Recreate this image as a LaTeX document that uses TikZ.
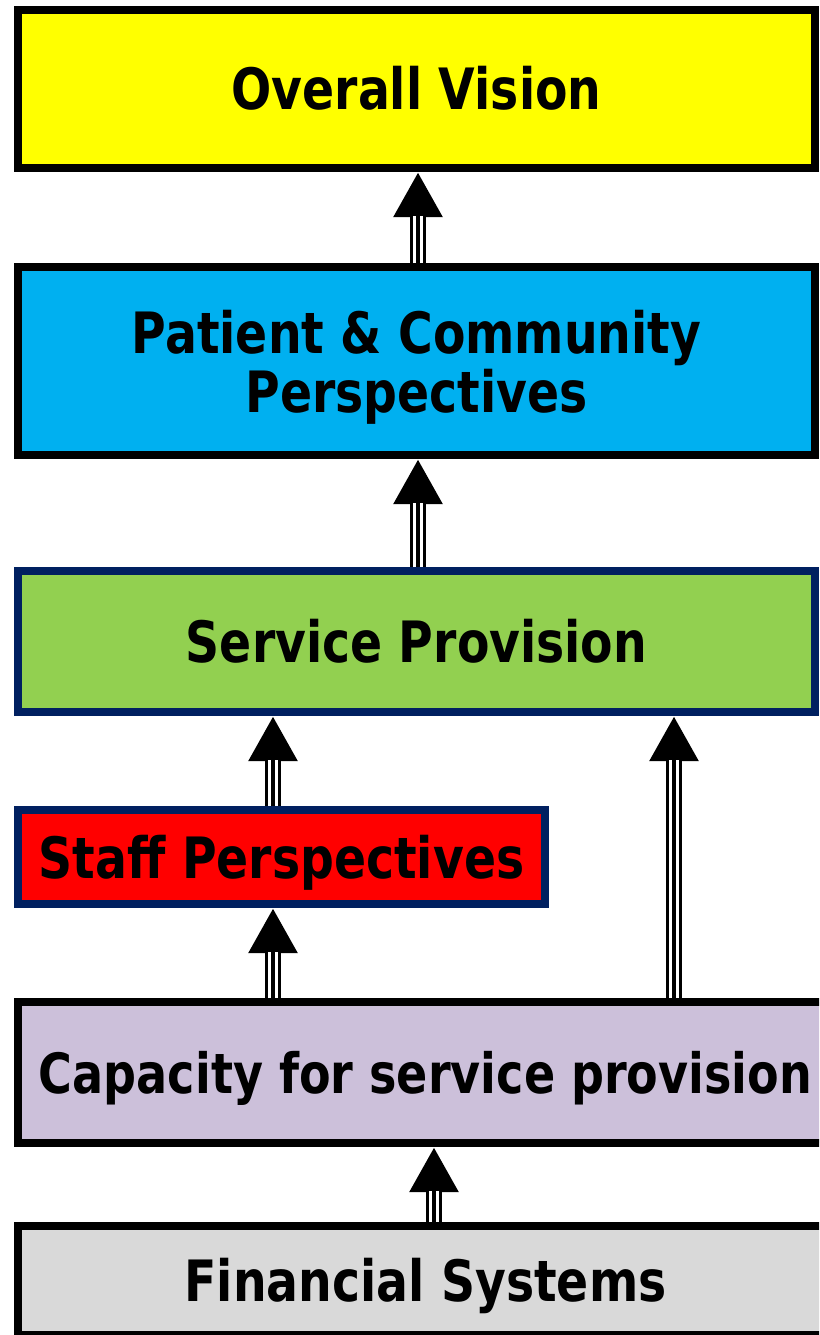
\documentclass[tikz,border=0pt]{standalone}
\usepackage{fontspec}
\newfontfamily\tierfont[FakeStretch=0.83]{DejaVu Sans Bold}
\usetikzlibrary{arrows.meta}
\definecolor{visionyellow}{HTML}{FFFF00}
\definecolor{patientblue}{HTML}{00B0F0}
\definecolor{servicegreen}{HTML}{92D050}
\definecolor{staffred}{HTML}{FF0000}
\definecolor{capacitylilac}{HTML}{CCC0DA}
\definecolor{financegrey}{HTML}{D9D9D9}
\definecolor{tiernavy}{HTML}{002060}
\begin{document}
\begin{tikzpicture}[x=1pt, y=-1pt, line join=miter,
    tier/.style={draw, line width=8pt, inner sep=0pt, minimum width=797pt,
      text height=42pt, text depth=0pt, align=center,
      font=\tierfont\fontsize{57}{59}\selectfont},
    uparrow/.style={line width=16pt, -{Triangle[length=45pt, width=46pt]},
      postaction={draw, -, white, line width=10pt, shorten >=44pt},
      postaction={draw, -, black, line width=4pt, shorten >=44pt}}]
  \useasboundingbox (0,0) rectangle (819,1335);
  \clip (0,0) rectangle (819,1335);
  % lanes of the vertical connectors
  \coordinate (midlane) at (418,0);
  \coordinate (leftlane) at (273,0);
  \coordinate (rightlane) at (674,0);
  \coordinate (baselane) at (434,0);
  % tiers
  \node[tier, fill=visionyellow, minimum height=158pt] (vision) at (416.5,89) {Overall Vision};
  \node[tier, fill=patientblue, minimum height=188pt, text height=] (patient) at (416.5,361)
    {Patient \& Community\\Perspectives};
  \node[tier, fill=servicegreen, draw=tiernavy, minimum height=141pt] (service) at (416.5,641.5) {Service Provision};
  \node[tier, fill=staffred, draw=tiernavy, minimum width=527pt, minimum height=94pt] (staff) at (281.5,857)
    {Staff Perspectives};
  \node[tier, fill=capacitylilac, minimum width=815pt, minimum height=141pt, text height=41pt,
    font=\tierfont\fontsize{55.5}{58}\selectfont] (capacity) at (425.5,1072.5)
    {Capacity for service provision};
  \node[tier, fill=financegrey, minimum width=815pt, minimum height=109pt] (finance) at (425.5,1280.5)
    {Financial Systems};
  % connectors
  \draw[uparrow] (patient.north -| midlane) -- (vision.south -| midlane);
  \draw[uparrow] (service.north -| midlane) -- (patient.south -| midlane);
  \draw[uparrow] (staff.north -| leftlane) -- (service.south -| leftlane);
  \draw[uparrow] (capacity.north -| leftlane) -- (staff.south -| leftlane);
  \draw[uparrow] (capacity.north -| rightlane) -- (service.south -| rightlane);
  \draw[uparrow] (finance.north -| baselane) -- (capacity.south -| baselane);
\end{tikzpicture}
\end{document}
